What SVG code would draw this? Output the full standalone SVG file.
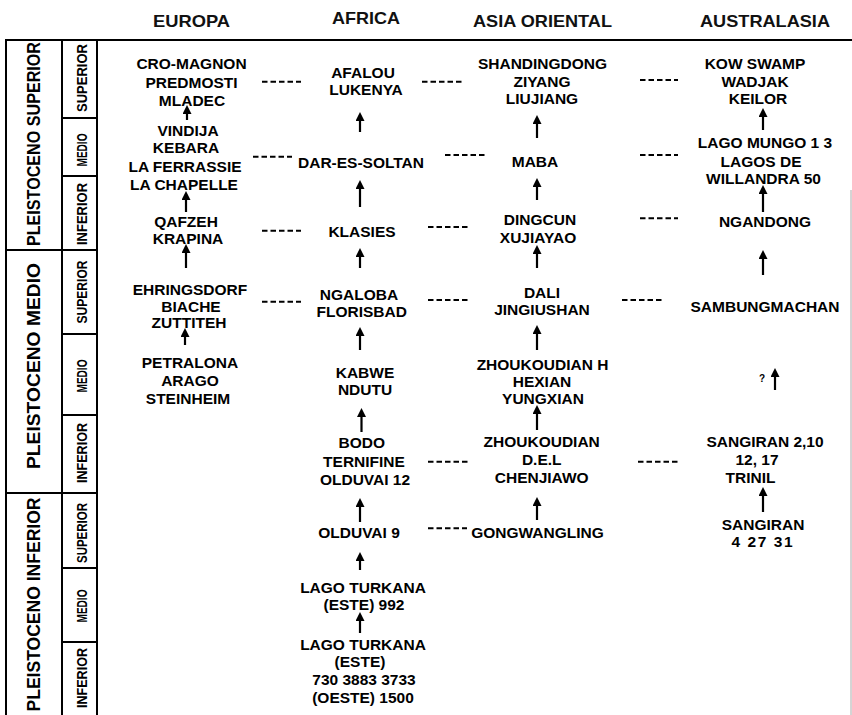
<svg xmlns="http://www.w3.org/2000/svg" width="852" height="715" viewBox="0 0 852 715">
<defs>
<style>
.t{font-family:"Liberation Sans",Arial,sans-serif;font-weight:bold;font-size:15.5px;text-anchor:middle;fill:#000}
.h{font-family:"Liberation Sans",Arial,sans-serif;font-weight:bold;font-size:16.5px;text-anchor:middle;fill:#111}
.p{font-family:"Liberation Sans",Arial,sans-serif;font-weight:bold;font-size:18.5px;text-anchor:middle;fill:#000}
.s{font-family:"Liberation Sans",Arial,sans-serif;font-weight:bold;font-size:14px;text-anchor:middle;fill:#000}
.q{font-family:"Liberation Sans",Arial,sans-serif;font-weight:bold;font-size:10px;text-anchor:middle;fill:#000}
.rule{stroke:#000;stroke-width:2;fill:none}
.arr{stroke:#000;stroke-width:2.2;fill:none;marker-end:url(#ah)}
.dash{stroke:#000;stroke-width:2;fill:none;stroke-dasharray:5.5 3}
</style>
<marker id="ah" viewBox="0 0 9 9" refX="6" refY="4.5" markerWidth="9" markerHeight="9" markerUnits="userSpaceOnUse" orient="auto">
<path d="M0,0 L9,4.5 L0,9 z" fill="#000"/>
</marker>
</defs>
<rect width="852" height="715" fill="#fff"/>

<g id="headers">
<text class="h" x="191.5" y="26.5" textLength="77" lengthAdjust="spacingAndGlyphs">EUROPA</text>
<text class="h" x="366" y="23.5" textLength="68" lengthAdjust="spacingAndGlyphs">AFRICA</text>
<text class="h" x="542.5" y="26.5" textLength="139" lengthAdjust="spacingAndGlyphs">ASIA ORIENTAL</text>
<text class="h" x="765" y="26.5" textLength="130" lengthAdjust="spacingAndGlyphs">AUSTRALASIA</text>
</g>

<g id="timescale">
<line class="rule" x1="5" y1="40" x2="852" y2="40" stroke-width="2.5"/>
<line class="rule" x1="6" y1="40" x2="6" y2="715"/>
<line class="rule" x1="62" y1="40" x2="62" y2="715"/>
<line class="rule" x1="97" y1="40" x2="97" y2="715"/>
<line class="rule" x1="6" y1="250" x2="97" y2="250"/>
<line class="rule" x1="6" y1="493" x2="97" y2="493"/>
<line class="rule" x1="62" y1="118" x2="97" y2="118"/>
<line class="rule" x1="62" y1="176" x2="97" y2="176"/>
<line class="rule" x1="62" y1="334" x2="97" y2="334"/>
<line class="rule" x1="62" y1="415" x2="97" y2="415"/>
<line class="rule" x1="62" y1="568" x2="97" y2="568"/>
<line class="rule" x1="62" y1="642" x2="97" y2="642"/>
<text class="p" transform="translate(40,144) rotate(-90)" textLength="204" lengthAdjust="spacingAndGlyphs">PLEISTOCENO SUPERIOR</text>
<text class="p" transform="translate(40,366) rotate(-90)" textLength="206" lengthAdjust="spacingAndGlyphs">PLEISTOCENO MEDIO</text>
<text class="p" transform="translate(40,604.5) rotate(-90)" textLength="214" lengthAdjust="spacingAndGlyphs">PLEISTOCENO INFERIOR</text>
<text class="s" transform="translate(87,78) rotate(-90)" textLength="68" lengthAdjust="spacingAndGlyphs">SUPERIOR</text>
<text class="s" transform="translate(87,150) rotate(-90)" textLength="33" lengthAdjust="spacingAndGlyphs">MEDIO</text>
<text class="s" transform="translate(87,214) rotate(-90)" textLength="62" lengthAdjust="spacingAndGlyphs">INFERIOR</text>
<text class="s" transform="translate(87,292) rotate(-90)" textLength="63" lengthAdjust="spacingAndGlyphs">SUPERIOR</text>
<text class="s" transform="translate(87,376) rotate(-90)" textLength="33" lengthAdjust="spacingAndGlyphs">MEDIO</text>
<text class="s" transform="translate(87,453) rotate(-90)" textLength="60" lengthAdjust="spacingAndGlyphs">INFERIOR</text>
<text class="s" transform="translate(87,533) rotate(-90)" textLength="60" lengthAdjust="spacingAndGlyphs">SUPERIOR</text>
<text class="s" transform="translate(87,606) rotate(-90)" textLength="33" lengthAdjust="spacingAndGlyphs">MEDIO</text>
<text class="s" transform="translate(87,678) rotate(-90)" textLength="60" lengthAdjust="spacingAndGlyphs">INFERIOR</text>
<line x1="851" y1="190" x2="851" y2="715" stroke="#aaa" stroke-width="1"/>
</g>

<g id="eu1"><text class="t"><tspan x="191.5" y="69.3">CRO-MAGNON</tspan><tspan x="191.5" y="87.7">PREDMOSTI</tspan><tspan x="192" y="105.7">MLADEC</tspan></text></g>
<g id="eu2"><text class="t"><tspan x="188" y="136">VINDIJA</tspan><tspan x="186" y="153.3">KEBARA</tspan><tspan x="185" y="171.7">LA FERRASSIE</tspan><tspan x="184" y="190">LA CHAPELLE</tspan></text></g>
<g id="eu3"><text class="t"><tspan x="186" y="226.7">QAFZEH</tspan><tspan x="188" y="244">KRAPINA</tspan></text></g>
<g id="eu4"><text class="t"><tspan x="190" y="295">EHRINGSDORF</tspan><tspan x="191" y="312.3">BIACHE</tspan><tspan x="189" y="328.3">ZUTTITEH</tspan></text></g>
<g id="eu5"><text class="t"><tspan x="190" y="368.3">PETRALONA</tspan><tspan x="190" y="386">ARAGO</tspan><tspan x="188" y="404">STEINHEIM</tspan></text></g>

<g id="af1"><text class="t"><tspan x="363" y="78.3">AFALOU</tspan><tspan x="366" y="95">LUKENYA</tspan></text></g>
<g id="af2"><text class="t" x="361" y="168.3">DAR-ES-SOLTAN</text></g>
<g id="af3"><text class="t" x="362" y="236.7">KLASIES</text></g>
<g id="af4"><text class="t"><tspan x="359" y="300">NGALOBA</tspan><tspan x="361.7" y="316.7">FLORISBAD</tspan></text></g>
<g id="af5"><text class="t"><tspan x="365" y="378.3">KABWE</tspan><tspan x="365" y="395">NDUTU</tspan></text></g>
<g id="af6"><text class="t"><tspan x="361.7" y="448.3">BODO</tspan><tspan x="364" y="466.7">TERNIFINE</tspan><tspan x="365" y="485">OLDUVAI 12</tspan></text></g>
<g id="af7"><text class="t" x="359" y="538.3">OLDUVAI 9</text></g>
<g id="af8"><text class="t"><tspan x="363" y="593.3">LAGO TURKANA</tspan><tspan x="364" y="610">(ESTE) 992</tspan></text></g>
<g id="af9"><text class="t"><tspan x="363" y="650">LAGO TURKANA</tspan><tspan x="360" y="666.7">(ESTE)</tspan><tspan x="364" y="685">730 3883 3733</tspan><tspan x="363" y="703.3">(OESTE) 1500</tspan></text></g>

<g id="as1"><text class="t"><tspan x="542.5" y="69">SHANDINGDONG</tspan><tspan x="542" y="86.7">ZIYANG</tspan><tspan x="542" y="104">LIUJIANG</tspan></text></g>
<g id="as2"><text class="t" x="535" y="166.7">MABA</text></g>
<g id="as3"><text class="t"><tspan x="540" y="225">DINGCUN</tspan><tspan x="538" y="243.3">XUJIAYAO</tspan></text></g>
<g id="as4"><text class="t"><tspan x="542" y="298.3">DALI</tspan><tspan x="542" y="315">JINGIUSHAN</tspan></text></g>
<g id="as5"><text class="t"><tspan x="542.5" y="370">ZHOUKOUDIAN H</tspan><tspan x="542" y="387.3">HEXIAN</tspan><tspan x="543" y="404">YUNGXIAN</tspan></text></g>
<g id="as6"><text class="t"><tspan x="541.7" y="446.7">ZHOUKOUDIAN</tspan><tspan x="541.7" y="465">D.E.L</tspan><tspan x="541.7" y="483.3">CHENJIAWO</tspan></text></g>
<g id="as7"><text class="t" x="537.5" y="538.3">GONGWANGLING</text></g>

<g id="au1"><text class="t"><tspan x="755" y="69">KOW SWAMP</tspan><tspan x="755" y="86.7">WADJAK</tspan><tspan x="758" y="104">KEILOR</tspan></text></g>
<g id="au2"><text class="t"><tspan x="765" y="148.3">LAGO MUNGO 1 3</tspan><tspan x="761" y="166.7">LAGOS DE</tspan><tspan x="763.5" y="184.3">WILLANDRA 50</tspan></text></g>
<g id="au3"><text class="t" x="765" y="226.7">NGANDONG</text></g>
<g id="au4"><text class="t" x="765" y="311.7">SAMBUNGMACHAN</text></g>
<g id="au5"><text class="t"><tspan x="765" y="446.7">SANGIRAN 2,10</tspan><tspan x="757" y="465">12, 17</tspan><tspan x="750.5" y="483.3">TRINIL</tspan></text></g>
<g id="au6"><text class="t"><tspan x="763" y="530">SANGIRAN</tspan><tspan x="762" y="546.7" textLength="61" lengthAdjust="spacing">4 27 31</tspan></text></g>

<g id="connectors">
<line class="arr" x1="187" y1="120" x2="187" y2="108"/>
<line class="arr" x1="186" y1="212" x2="186" y2="194"/>
<line class="arr" x1="186" y1="268" x2="186" y2="247"/>
<line class="arr" x1="185" y1="345" x2="185" y2="331"/>
<line class="arr" x1="360" y1="132" x2="360" y2="115"/>
<line class="arr" x1="360" y1="207" x2="360" y2="183"/>
<line class="arr" x1="360" y1="268" x2="360" y2="251"/>
<line class="arr" x1="360" y1="350" x2="360" y2="330"/>
<line class="arr" x1="361.5" y1="432" x2="361.5" y2="411"/>
<line class="arr" x1="360" y1="522" x2="360" y2="501"/>
<line class="arr" x1="360" y1="570" x2="360" y2="555"/>
<line class="arr" x1="360" y1="633" x2="360" y2="615"/>
<line class="arr" x1="537" y1="138" x2="537" y2="118"/>
<line class="arr" x1="537" y1="200" x2="537" y2="181"/>
<line class="arr" x1="537" y1="268" x2="537" y2="248"/>
<line class="arr" x1="537" y1="350" x2="537" y2="328"/>
<line class="arr" x1="537" y1="430" x2="537" y2="408"/>
<line class="arr" x1="537" y1="520" x2="537" y2="500"/>
<line class="arr" x1="763" y1="130" x2="763" y2="111"/>
<line class="arr" x1="763" y1="212" x2="763" y2="188"/>
<line class="arr" x1="763" y1="275" x2="763" y2="253"/>
<line class="arr" x1="775" y1="390" x2="775" y2="371"/>
<line class="arr" x1="763" y1="512" x2="763" y2="490"/>
<text class="q" x="762" y="382">?</text>

<line class="dash" x1="262" y1="81.7" x2="301" y2="81.7"/>
<line class="dash" x1="253" y1="156.7" x2="292" y2="156.7"/>
<line class="dash" x1="262" y1="230.7" x2="301" y2="230.7"/>
<line class="dash" x1="262" y1="301.7" x2="301" y2="301.7"/>
<line class="dash" x1="422" y1="81.7" x2="463" y2="81.7"/>
<line class="dash" x1="445" y1="155" x2="487" y2="155"/>
<line class="dash" x1="428" y1="227" x2="470" y2="227"/>
<line class="dash" x1="428" y1="300" x2="470" y2="300"/>
<line class="dash" x1="428" y1="461.7" x2="468" y2="461.7"/>
<line class="dash" x1="428" y1="528.3" x2="467" y2="528.3"/>
<line class="dash" x1="640" y1="80" x2="678" y2="80"/>
<line class="dash" x1="640" y1="155" x2="678" y2="155"/>
<line class="dash" x1="640" y1="218.3" x2="678" y2="218.3"/>
<line class="dash" x1="622" y1="300" x2="663" y2="300"/>
<line class="dash" x1="638" y1="461.7" x2="678" y2="461.7"/>
</g>
</svg>
